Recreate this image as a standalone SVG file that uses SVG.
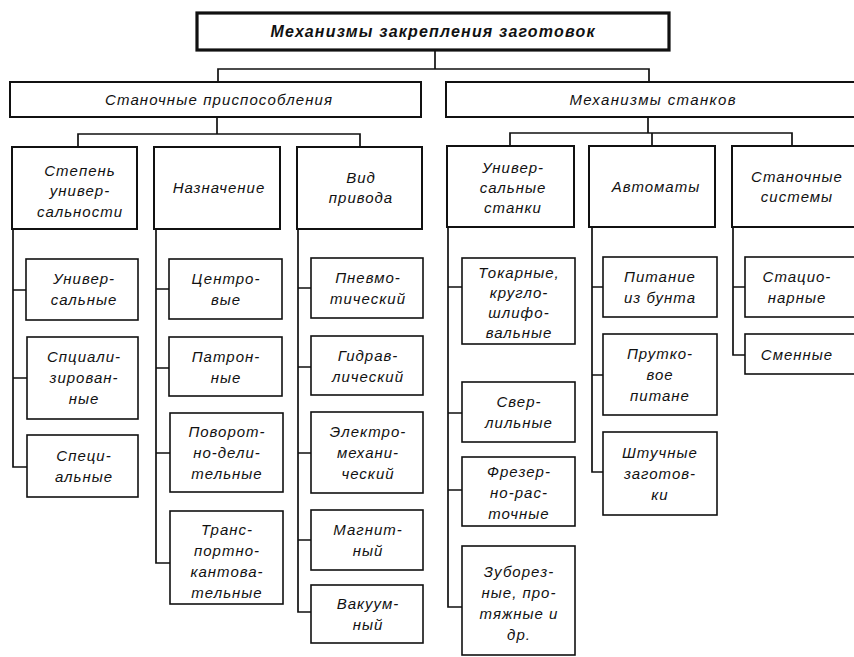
<svg xmlns="http://www.w3.org/2000/svg" width="854" height="657" viewBox="0 0 854 657">
  <style>
    .box { fill: #fff; stroke: #111; }
    .top { stroke-width: 3.2; }
    .l1 { stroke-width: 2; }
    .l2 { stroke-width: 2; }
    .l3 { stroke-width: 1.6; }
    #connectors path { fill: none; stroke: #111; stroke-width: 1.7; }
    text { font-family: "Liberation Sans", "DejaVu Sans", sans-serif; font-style: italic; font-size: 15px; fill: #111; text-anchor: middle; letter-spacing: 1px; }
    .title { font-weight: bold; font-size: 16px; }
  </style>

  <rect width="854" height="657" fill="#fff"/>

  <g id="connectors">
    <!-- root to level 1 -->
    <path d="M435 50 V69 M218 82 V69 H649 V82"/>
    <!-- level 1 to level 2 -->
    <path d="M217 117 V134 M78 147 V134 H360 V147"/>
    <path d="M648 117 V133 M510 146 V133 H792 V146 M652 133 V146"/>
    <!-- Степень универсальности -->
    <path d="M13 229 V467 H27 M13 290 H26 M13 378 H27"/>
    <!-- Назначение -->
    <path d="M156 229 V563 H170 M156 289 H169 M156 368 H169 M156 453 H170"/>
    <!-- Вид привода -->
    <path d="M298 229 V612 H311 M298 288 H311 M298 367 H311 M298 453 H311 M298 540 H311"/>
    <!-- Универсальные станки -->
    <path d="M448 227 V607 H462 M448 287 H462 M448 413 H462 M448 490 H462"/>
    <!-- Автоматы -->
    <path d="M592 227 V472 H603 M592 287 H603 M592 375 H603"/>
    <!-- Станочные системы -->
    <path d="M733 227 V355 H745 M733 287 H745"/>
  </g>

  <g id="root">
    <rect class="box top" x="197" y="13" width="472" height="37"/>
    <text class="title" x="433" y="37" textLength="325" lengthAdjust="spacing">Механизмы закрепления заготовок</text>
  </g>

  <g id="fixtures">
    <rect class="box l1" x="10" y="82" width="411" height="35"/>
    <text x="219" y="105" textLength="228" lengthAdjust="spacing">Станочные приспособления</text>
  </g>
  <g id="machine-mechanisms">
    <rect class="box l1" x="446" y="82" width="420" height="35"/>
    <text x="653" y="105" textLength="167" lengthAdjust="spacing">Механизмы станков</text>
  </g>

  <!-- level 2 -->
  <g id="universality">
    <rect class="box l2" x="12" y="147" width="125" height="82"/>
    <text x="80" y="176">Степень</text>
    <text x="80" y="196">универ-</text>
    <text x="80" y="217">сальности</text>
  </g>
  <g id="purpose">
    <rect class="box l2" x="154" y="147" width="126" height="82"/>
    <text x="219" y="193">Назначение</text>
  </g>
  <g id="drive-type">
    <rect class="box l2" x="297" y="147" width="125" height="82"/>
    <text x="361" y="183">Вид</text>
    <text x="361" y="203">привода</text>
  </g>
  <g id="universal-machines">
    <rect class="box l2" x="447" y="146" width="127" height="81"/>
    <text x="513" y="173">Универ-</text>
    <text x="513" y="193">сальные</text>
    <text x="513" y="213">станки</text>
  </g>
  <g id="automats">
    <rect class="box l2" x="589" y="146" width="126" height="81"/>
    <text x="656" y="192">Автоматы</text>
  </g>
  <g id="machine-systems">
    <rect class="box l2" x="732" y="146" width="130" height="81"/>
    <text x="797" y="182">Станочные</text>
    <text x="797" y="202">системы</text>
  </g>

  <!-- level 3: Степень универсальности -->
  <g id="u-universal">
    <rect class="box l3" x="26" y="259" width="112" height="61"/>
    <text x="84" y="284">Универ-</text>
    <text x="84" y="305">сальные</text>
  </g>
  <g id="u-specialized">
    <rect class="box l3" x="27" y="337" width="111" height="82"/>
    <text x="84" y="362">Спциали-</text>
    <text x="84" y="383">зирован-</text>
    <text x="84" y="404">ные</text>
  </g>
  <g id="u-special">
    <rect class="box l3" x="27" y="435" width="111" height="62"/>
    <text x="84" y="461">Специ-</text>
    <text x="84" y="482">альные</text>
  </g>

  <!-- level 3: Назначение -->
  <g id="p-center">
    <rect class="box l3" x="169" y="259" width="113" height="60"/>
    <text x="226" y="284">Центро-</text>
    <text x="226" y="305">вые</text>
  </g>
  <g id="p-chuck">
    <rect class="box l3" x="169" y="337" width="113" height="59"/>
    <text x="226" y="362">Патрон-</text>
    <text x="226" y="383">ные</text>
  </g>
  <g id="p-indexing">
    <rect class="box l3" x="170" y="413" width="113" height="79"/>
    <text x="227" y="437">Поворот-</text>
    <text x="227" y="458">но-дели-</text>
    <text x="227" y="479">тельные</text>
  </g>
  <g id="p-transport">
    <rect class="box l3" x="170" y="511" width="113" height="93"/>
    <text x="227" y="535">Транс-</text>
    <text x="227" y="556">портно-</text>
    <text x="227" y="577">кантова-</text>
    <text x="227" y="598">тельные</text>
  </g>

  <!-- level 3: Вид привода -->
  <g id="d-pneumatic">
    <rect class="box l3" x="311" y="258" width="112" height="60"/>
    <text x="368" y="283">Пневмо-</text>
    <text x="368" y="304">тический</text>
  </g>
  <g id="d-hydraulic">
    <rect class="box l3" x="311" y="336" width="112" height="59"/>
    <text x="368" y="361">Гидрав-</text>
    <text x="368" y="382">лический</text>
  </g>
  <g id="d-electromech">
    <rect class="box l3" x="311" y="412" width="112" height="81"/>
    <text x="368" y="437">Электро-</text>
    <text x="368" y="458">механи-</text>
    <text x="368" y="479">ческий</text>
  </g>
  <g id="d-magnetic">
    <rect class="box l3" x="311" y="510" width="112" height="60"/>
    <text x="368" y="535">Магнит-</text>
    <text x="368" y="556">ный</text>
  </g>
  <g id="d-vacuum">
    <rect class="box l3" x="311" y="585" width="112" height="58"/>
    <text x="368" y="609">Вакуум-</text>
    <text x="368" y="630">ный</text>
  </g>

  <!-- level 3: Универсальные станки -->
  <g id="m-turning">
    <rect class="box l3" x="462" y="258" width="113" height="86"/>
    <text x="519" y="278">Токарные,</text>
    <text x="519" y="298">кругло-</text>
    <text x="519" y="318">шлифо-</text>
    <text x="519" y="338">вальные</text>
  </g>
  <g id="m-drilling">
    <rect class="box l3" x="462" y="382" width="113" height="60"/>
    <text x="519" y="407">Свер-</text>
    <text x="519" y="428">лильные</text>
  </g>
  <g id="m-milling">
    <rect class="box l3" x="462" y="457" width="113" height="69"/>
    <text x="519" y="477">Фрезер-</text>
    <text x="519" y="498">но-рас-</text>
    <text x="519" y="519">точные</text>
  </g>
  <g id="m-gear">
    <rect class="box l3" x="462" y="546" width="113" height="109"/>
    <text x="519" y="577">Зуборез-</text>
    <text x="519" y="598">ные, про-</text>
    <text x="519" y="619">тяжные и</text>
    <text x="519" y="640">др.</text>
  </g>

  <!-- level 3: Автоматы -->
  <g id="a-coil">
    <rect class="box l3" x="603" y="257" width="114" height="60"/>
    <text x="660" y="282">Питание</text>
    <text x="660" y="303">из бунта</text>
  </g>
  <g id="a-bar">
    <rect class="box l3" x="603" y="334" width="114" height="81"/>
    <text x="660" y="359">Прутко-</text>
    <text x="660" y="380">вое</text>
    <text x="660" y="401">питане</text>
  </g>
  <g id="a-piece">
    <rect class="box l3" x="603" y="432" width="114" height="83"/>
    <text x="660" y="458">Штучные</text>
    <text x="660" y="479">заготов-</text>
    <text x="660" y="500">ки</text>
  </g>

  <!-- level 3: Станочные системы -->
  <g id="s-stationary">
    <rect class="box l3" x="745" y="257" width="115" height="60"/>
    <text x="797" y="282">Стацио-</text>
    <text x="797" y="303">нарные</text>
  </g>
  <g id="s-changeable">
    <rect class="box l3" x="745" y="334" width="115" height="40"/>
    <text x="797" y="360">Сменные</text>
  </g>
</svg>
